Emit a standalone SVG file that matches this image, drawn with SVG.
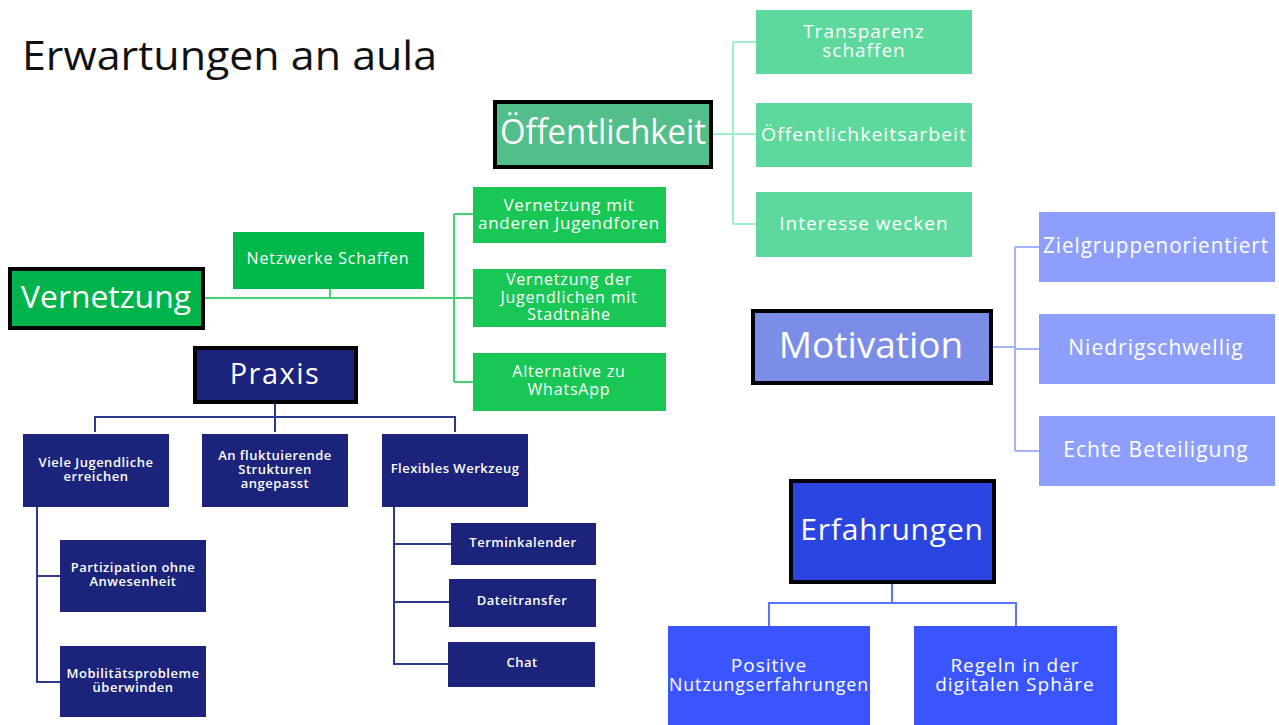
<svg xmlns="http://www.w3.org/2000/svg" width="1279" height="725" viewBox="0 0 1279 725">
<style>
text{font-family:"Open Sans","Noto Sans","DejaVu Sans",sans-serif;fill:#fff;text-anchor:middle;dominant-baseline:central}
.title{fill:#111;text-anchor:start;font-size:40px;dominant-baseline:auto}
.main{stroke:#000;stroke-width:4}
.c{fill:none;stroke-width:2}
.s13{font-size:13px;font-weight:600;letter-spacing:0.5px}
.s16{font-size:16px;letter-spacing:0.8px}
.s17{font-size:17px;letter-spacing:0.7px}
.s19{font-size:19px;letter-spacing:1px}
.s21{font-size:21px;letter-spacing:1px}
</style>
<rect width="1279" height="725" fill="#fff"/>
<text class="title" x="22" y="70" textLength="415" lengthAdjust="spacingAndGlyphs">Erwartungen an aula</text>

<g id="connectors">
  <path class="c" stroke="#9CF0C6" d="M713 134H733M733 42V224M733 42H756M733 134H756M733 224H756"/>
  <path class="c" stroke="#3FD374" d="M205 298H473M330 289V298M454 214V382M454 214H473M454 382H473"/>
  <path class="c" stroke="#2E3A8C" d="M275 403V432M95 432V417H455V432M37 507V682H60M37 576H60M394 507V664H448M394 544H451M394 602H449"/>
  <path class="c" stroke="#A5B2FC" d="M993 347H1015M1015 247V451M1015 247H1039M1015 349H1039M1015 451H1039"/>
  <path class="c" stroke="#5B73FF" d="M892 584V603M769 626V603H1016V626"/>
</g>

<g id="oeffentlichkeit">
  <rect class="main" x="495" y="102" width="216" height="65" fill="#52BE8A"/>
  <text x="603" y="131" font-size="34" textLength="206" lengthAdjust="spacingAndGlyphs">Öffentlichkeit</text>
</g>
<g id="transparenz">
  <rect x="756" y="10" width="216" height="64" fill="#5DD99D"/>
  <text class="s19" x="864" y="31"><tspan x="864">Transparenz</tspan><tspan x="864" dy="19">schaffen</tspan></text>
</g>
<g id="oeffentlichkeitsarbeit">
  <rect x="756" y="103" width="216" height="64" fill="#5DD99D"/>
  <text class="s19" x="864" y="134" textLength="206" lengthAdjust="spacingAndGlyphs">Öffentlichkeitsarbeit</text>
</g>
<g id="interesse">
  <rect x="756" y="192" width="216" height="65" fill="#5DD99D"/>
  <text class="s19" x="864" y="223">Interesse wecken</text>
</g>

<g id="vernetzung">
  <rect class="main" x="10" y="269" width="193" height="59" fill="#00B34A"/>
  <text x="106" y="296" font-size="31" textLength="170" lengthAdjust="spacingAndGlyphs">Vernetzung</text>
</g>
<g id="netzwerke">
  <rect x="233" y="232" width="191" height="57" fill="#00B84A"/>
  <text class="s16" x="328" y="258">Netzwerke Schaffen</text>
</g>
<g id="jugendforen">
  <rect x="473" y="187" width="193" height="56" fill="#19C755"/>
  <text class="s17" x="569" y="204"><tspan x="569">Vernetzung mit</tspan><tspan x="569" dy="18">anderen Jugendforen</tspan></text>
</g>
<g id="stadtnaehe">
  <rect x="473" y="269" width="193" height="58" fill="#19C755"/>
  <text class="s16" x="569" y="279"><tspan x="569">Vernetzung der</tspan><tspan x="569" dy="17.5">Jugendlichen mit</tspan><tspan x="569" dy="17.5">Stadtnähe</tspan></text>
</g>
<g id="whatsapp">
  <rect x="473" y="353" width="193" height="58" fill="#19C755"/>
  <text class="s16" x="569" y="371"><tspan x="569">Alternative zu</tspan><tspan x="569" dy="18">WhatsApp</tspan></text>
</g>

<g id="praxis">
  <rect class="main" x="195" y="348" width="161" height="54" fill="#1B237A"/>
  <text x="275" y="372" font-size="29" letter-spacing="1.5">Praxis</text>
</g>
<g id="viele">
  <rect x="23" y="434" width="146" height="73" fill="#1B237A"/>
  <text class="s13" x="96" y="462"><tspan x="96">Viele Jugendliche</tspan><tspan x="96" dy="14">erreichen</tspan></text>
</g>
<g id="fluktuierend">
  <rect x="202" y="434" width="146" height="73" fill="#1B237A"/>
  <text class="s13" x="275" y="455"><tspan x="275">An fluktuierende</tspan><tspan x="275" dy="14">Strukturen</tspan><tspan x="275" dy="14">angepasst</tspan></text>
</g>
<g id="werkzeug">
  <rect x="382" y="434" width="146" height="73" fill="#1B237A"/>
  <text class="s13" x="455" y="468">Flexibles Werkzeug</text>
</g>
<g id="partizipation">
  <rect x="60" y="540" width="146" height="72" fill="#1B237A"/>
  <text class="s13" x="133" y="567"><tspan x="133">Partizipation ohne</tspan><tspan x="133" dy="14">Anwesenheit</tspan></text>
</g>
<g id="mobilitaet">
  <rect x="60" y="646" width="146" height="71" fill="#1B237A"/>
  <text class="s13" x="133" y="673"><tspan x="133">Mobilitätsprobleme</tspan><tspan x="133" dy="14">überwinden</tspan></text>
</g>
<g id="terminkalender">
  <rect x="451" y="523" width="145" height="42" fill="#1B237A"/>
  <text class="s13" x="523" y="542">Terminkalender</text>
</g>
<g id="dateitransfer">
  <rect x="449" y="579" width="147" height="48" fill="#1B237A"/>
  <text class="s13" x="522" y="600">Dateitransfer</text>
</g>
<g id="chat">
  <rect x="448" y="642" width="147" height="45" fill="#1B237A"/>
  <text class="s13" x="522" y="662">Chat</text>
</g>

<g id="motivation">
  <rect class="main" x="753" y="311" width="238" height="72" fill="#7B8DE6"/>
  <text x="871" y="343" font-size="37">Motivation</text>
</g>
<g id="zielgruppen">
  <rect x="1039" y="212" width="236" height="70" fill="#8E9EFC"/>
  <text class="s21" x="1156" y="245" textLength="226" lengthAdjust="spacingAndGlyphs">Zielgruppenorientiert</text>
</g>
<g id="niedrig">
  <rect x="1039" y="314" width="236" height="70" fill="#8E9EFC"/>
  <text class="s21" x="1156" y="347">Niedrigschwellig</text>
</g>
<g id="echte">
  <rect x="1039" y="416" width="236" height="70" fill="#8E9EFC"/>
  <text class="s21" x="1156" y="449">Echte Beteiligung</text>
</g>

<g id="erfahrungen">
  <rect class="main" x="791" y="481" width="203" height="101" fill="#2B45E0"/>
  <text x="892" y="528" font-size="30" letter-spacing="0.8">Erfahrungen</text>
</g>
<g id="positive">
  <rect x="668" y="626" width="202" height="99" fill="#3A55FF"/>
  <text class="s19" x="769" y="665"><tspan x="769">Positive</tspan><tspan x="769" dy="19" textLength="200" lengthAdjust="spacingAndGlyphs">Nutzungserfahrungen</tspan></text>
</g>
<g id="regeln">
  <rect x="914" y="626" width="203" height="99" fill="#3A55FF"/>
  <text class="s19" x="1015" y="665"><tspan x="1015">Regeln in der</tspan><tspan x="1015" dy="19">digitalen Sphäre</tspan></text>
</g>
</svg>
